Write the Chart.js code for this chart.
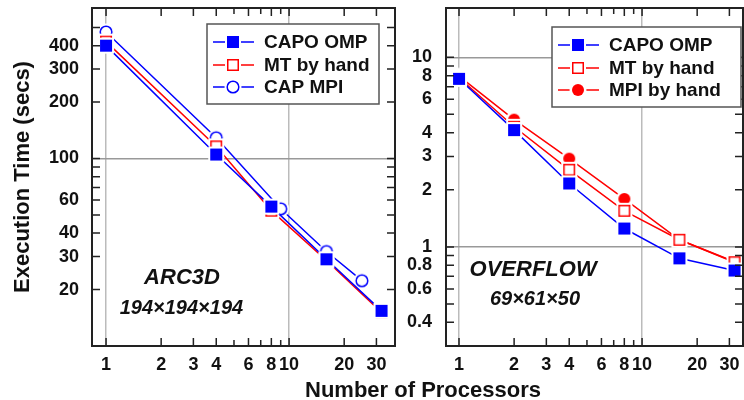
<!DOCTYPE html>
<html>
<head>
<meta charset="utf-8">
<script src="https://cdn.jsdelivr.net/npm/chart.js@4.4.1/dist/chart.umd.min.js"></script>
<style>
  body { margin: 0; background: #fff; }
  #wrap { position: relative; width: 744px; height: 400px; overflow: hidden; }
  #left { position: absolute; left: 0; top: 0; }
  #right { position: absolute; left: 396px; top: 0; }
  #xtitle {
    position: absolute; left: 273px; top: 379px; width: 300px;
    text-align: center; font: bold 22px 'Liberation Sans', Arial, sans-serif;
    line-height: 22px; color: #111;
  }
</style>
</head>
<body>
<div id="wrap">
  <canvas id="left" width="396" height="400"></canvas>
  <canvas id="right" width="348" height="400"></canvas>
  <div id="xtitle">Number of Processors</div>
</div>
<script>
// ARC3D panel
const arc3dProcs = [1, 4, 8, 16, 32];
const arc3dCapoOmp = [400, 105, 55.4, 29, 15.4];
const arc3dMtByHand = [420, 116, 52.7, 28.6, 15.1];
const arc3dMpiProcs = [1, 4, 9, 16, 25];
const arc3dCapMpi = [473, 129, 53.9, 31.9, 22.3];

// OVERFLOW panel
const overflowProcs = [1, 2, 4, 8, 16, 32];
const overflowCapoOmp = [7.7, 4.13, 2.16, 1.25, 0.87, 0.75];
const overflowMtByHand = [7.8, 4.3, 2.55, 1.55, 1.09, 0.83];
const overflowMpiByHand = [7.95, 4.69, 2.92, 1.79, 1.09, 0.835];

// axis ticks
const xTicks = [1, 2, 3, 4, 5, 6, 7, 8, 9, 10, 20, 30];
const xLabels = [1, 2, 3, 4, 6, 8, 10, 20, 30];
const arc3dYTicks = [20, 30, 40, 50, 60, 70, 80, 90, 100, 200, 300, 400, 500];
const arc3dYLabels = [20, 30, 40, 60, 100, 200, 300, 400];
const overflowYTicks = [0.4, 0.5, 0.6, 0.7, 0.8, 0.9, 1, 2, 3, 4, 5, 6, 7, 8, 9, 10];
const overflowYLabels = [0.4, 0.6, 0.8, 1, 2, 3, 4, 6, 8, 10];

const FONT = "'Liberation Sans', Arial, sans-serif";
Chart.defaults.font.family = FONT;
Chart.defaults.color = '#111';

const BLUE = '#0000ff';
const RED = '#ff0000';

// marker images with a white halo so lines stop short of them
function marker(shape, color, filled) {
    const c = document.createElement('canvas');
    c.width = c.height = 20;
    const g = c.getContext('2d');
    g.fillStyle = '#fff';
    if (shape === 'square') {
        g.fillRect(2, 2, 16, 16);
        if (filled) {
            g.fillStyle = color;
            g.fillRect(4, 4, 12, 12);
        } else {
            g.strokeStyle = color;
            g.lineWidth = 1.5;
            g.strokeRect(4.75, 4.75, 10.5, 10.5);
        }
    } else {
        g.beginPath(); g.arc(10, 10, 8.5, 0, Math.PI * 2); g.fill();
        g.beginPath();
        if (filled) {
            g.fillStyle = color;
            g.arc(10, 10, 6, 0, Math.PI * 2); g.fill();
        } else {
            g.strokeStyle = color;
            g.lineWidth = 1.5;
            g.arc(10, 10, 5.8, 0, Math.PI * 2); g.stroke();
        }
    }
    return c;
}

function pairs(xs, ys) {
    return xs.map((x, i) => ({ x: x, y: ys[i] }));
}

function series(label, xs, ys, color, style) {
    return {
        label: label,
        data: pairs(xs, ys),
        borderColor: color,
        borderWidth: 1.5,
        pointStyle: style,
        pointRadius: 6,
        pointHoverRadius: 6,
        tension: 0,
        fill: false
    };
}

function logAxis(min, max, tickVals, labelVals, gridVals, padding, gridColor) {
    return {
        type: 'logarithmic',
        min: min,
        max: max,
        afterBuildTicks: s => { s.ticks = tickVals.map(v => ({ value: v })); },
        ticks: {
            autoSkip: false,
            maxRotation: 0,
            padding: padding,
            font: { size: 18, weight: 'bold' },
            color: '#111',
            callback: v => labelVals.includes(v) ? String(v) : ''
        },
        grid: {
            drawTicks: false,
            lineWidth: 1.5,
            color: c => (c.tick && gridVals.includes(c.tick.value)) ? gridColor : 'rgba(0,0,0,0)'
        },
        border: { display: false }
    };
}

// fixed axis sizes; drop the label overhang padding so the plot box is exact
function fixX(h) {
    return s => { s.height = h; s.paddingLeft = 0; s.paddingRight = 0; };
}
function fixY(w) {
    return s => { s.width = w; s.paddingTop = 0; s.paddingBottom = 0; };
}

// frame and tick marks pointing into the plot, on all four sides
const innerTicks = {
    id: 'innerTicks',
    afterDatasetsDraw(chart) {
        const { ctx, chartArea: a } = chart;
        ctx.save();
        ctx.strokeStyle = '#222';
        ctx.lineWidth = 1.5;
        ctx.beginPath();
        chart.scales.x.ticks.forEach(t => {
            const px = chart.scales.x.getPixelForValue(t.value);
            const len = t.label ? 8 : 6;
            ctx.moveTo(px, a.bottom); ctx.lineTo(px, a.bottom - len);
            ctx.moveTo(px, a.top); ctx.lineTo(px, a.top + len);
        });
        chart.scales.y.ticks.forEach(t => {
            const py = chart.scales.y.getPixelForValue(t.value);
            ctx.moveTo(a.left, py); ctx.lineTo(a.left + 8, py);
            ctx.moveTo(a.right, py); ctx.lineTo(a.right - 8, py);
        });
        ctx.stroke();
        ctx.lineWidth = 2;
        ctx.strokeRect(a.left, a.top, a.right - a.left, a.bottom - a.top);
        ctx.restore();
    }
};

const notes = {
    id: 'notes',
    afterDatasetsDraw(chart, args, opts) {
        const { ctx, scales } = chart;
        ctx.save();
        ctx.fillStyle = '#111';
        ctx.textAlign = 'center';
        ctx.textBaseline = 'alphabetic';
        opts.items.forEach(n => {
            ctx.font = 'italic bold ' + n.size + 'px ' + FONT;
            ctx.fillText(n.text, scales.x.getPixelForValue(n.x), scales.y.getPixelForValue(n.y));
        });
        ctx.restore();
    }
};

const boxLegend = {
    id: 'boxLegend',
    afterDraw(chart, args, opts) {
        const { ctx, chartArea } = chart;
        const x0 = chartArea.right - opts.right - opts.width;
        const y0 = chartArea.top + opts.top;
        ctx.save();
        ctx.fillStyle = '#fff';
        ctx.fillRect(x0, y0, opts.width, opts.height);
        ctx.strokeStyle = '#555';
        ctx.lineWidth = 1.5;
        ctx.strokeRect(x0, y0, opts.width, opts.height);
        ctx.font = 'bold 19px ' + FONT;
        ctx.textBaseline = 'middle';
        chart.data.datasets.forEach((ds, i) => {
            const cy = Math.round(y0 + 18 + i * 22.5);
            ctx.strokeStyle = ds.borderColor;
            ctx.lineWidth = ds.borderWidth;
            ctx.beginPath();
            ctx.moveTo(x0 + 6, cy); ctx.lineTo(x0 + 47, cy);
            ctx.stroke();
            const m = ds.pointStyle;
            ctx.drawImage(m, x0 + 26 - m.width / 2, cy - m.height / 2);
            ctx.fillStyle = '#111';
            ctx.fillText(ds.label, x0 + 57, cy + 1);
        });
        ctx.restore();
    }
};

new Chart(document.getElementById('left'), {
    type: 'line',
    data: {
        datasets: [
            series('CAPO OMP', arc3dProcs, arc3dCapoOmp, BLUE, marker('square', BLUE, true)),
            series('MT by hand', arc3dProcs, arc3dMtByHand, RED, marker('square', RED, false)),
            series('CAP MPI', arc3dMpiProcs, arc3dCapMpi, BLUE, marker('circle', BLUE, false))
        ]
    },
    options: {
        responsive: false,
        animation: false,
        devicePixelRatio: 1,
        layout: { autoPadding: false, padding: { top: 8, right: 1, left: 0, bottom: 0 } },
        plugins: {
            legend: { display: false },
            tooltip: { enabled: false },
            boxLegend: { right: 16, top: 16, width: 172, height: 80 },
            notes: { items: [
                { text: 'ARC3D', x: 2.6, y: 21.5, size: 22 },
                { text: '194\u00d7194\u00d7194', x: 2.58, y: 14.9, size: 20 }
            ] }
        },
        scales: {
            x: Object.assign(logAxis(0.838, 37.9, xTicks, xLabels, [1, 10], 8, '#bbb'), {
                afterFit: fixX(54)
            }),
            y: Object.assign(logAxis(10, 635, arc3dYTicks, arc3dYLabels, [100], 13, '#999'), {
                afterFit: fixY(92),
                title: {
                    display: true,
                    text: 'Execution Time (secs)',
                    font: { size: 22, weight: 'bold' },
                    color: '#111',
                    padding: { top: 10, bottom: 0 }
                }
            })
        }
    },
    plugins: [innerTicks, notes, boxLegend]
});

new Chart(document.getElementById('right'), {
    type: 'line',
    data: {
        datasets: [
            series('CAPO OMP', overflowProcs, overflowCapoOmp, BLUE, marker('square', BLUE, true)),
            series('MT by hand', overflowProcs, overflowMtByHand, RED, marker('square', RED, false)),
            series('MPI by hand', overflowProcs, overflowMpiByHand, RED, marker('circle', RED, true))
        ]
    },
    options: {
        responsive: false,
        animation: false,
        devicePixelRatio: 1,
        layout: { autoPadding: false, padding: { top: 8, right: 1, left: 0, bottom: 0 } },
        plugins: {
            legend: { display: false },
            tooltip: { enabled: false },
            boxLegend: { right: 2, top: 19, width: 189, height: 80 },
            notes: { items: [
                { text: 'OVERFLOW', x: 2.54, y: 0.705, size: 22 },
                { text: '69\u00d761\u00d750', x: 2.6, y: 0.494, size: 20 }
            ] }
        },
        scales: {
            x: Object.assign(logAxis(0.849, 35.6, xTicks, xLabels, [1, 10], 8, '#bbb'), {
                afterFit: fixX(54)
            }),
            y: Object.assign(logAxis(0.334, 18.2, overflowYTicks, overflowYLabels, [1, 10], 14, '#999'), {
                afterFit: fixY(50)
            })
        }
    },
    plugins: [innerTicks, notes, boxLegend]
});
</script>
</body>
</html>
